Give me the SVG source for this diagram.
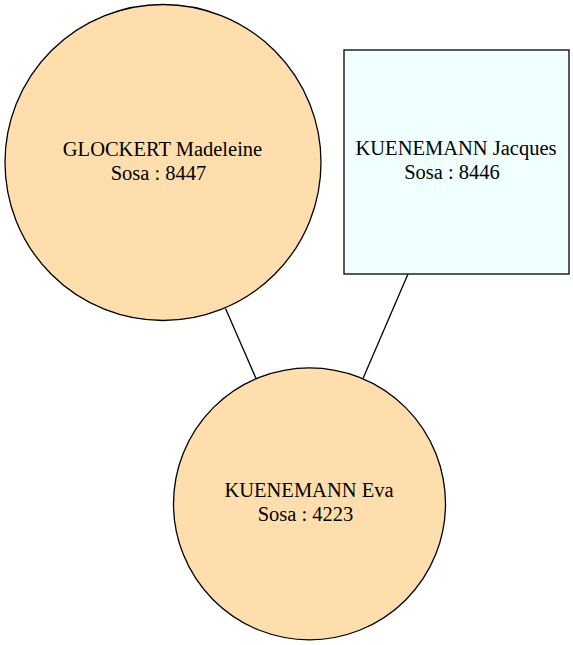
<svg xmlns="http://www.w3.org/2000/svg" width="573" height="645" viewBox="0 0 573 645">
<style>
.n{stroke:#000;stroke-width:1.3}
.f{fill:#FFDEAD}
.m{fill:#F0FFFF}
text{font-family:"Liberation Serif","Times New Roman",serif;font-size:20.5px;fill:#000;text-anchor:middle}
.e{stroke:#000;stroke-width:1.3;fill:none}
</style>
<rect width="573" height="645" fill="#fff"/>
<g id="edges">
<line class="e" x1="225.5" y1="308.5" x2="256" y2="378.5"/>
<line class="e" x1="408" y1="274" x2="363" y2="378.5"/>
</g>
<g id="glockert">
<circle class="n f" cx="163" cy="162.5" r="158"/>
<text x="162.5" y="156">GLOCKERT Madeleine</text>
<text x="158.5" y="180">Sosa : 8447</text>
</g>
<g id="jacques">
<rect class="n m" x="344" y="50" width="225" height="224"/>
<text x="456" y="155">KUENEMANN Jacques</text>
<text x="452" y="179">Sosa : 8446</text>
</g>
<g id="eva">
<circle class="n f" cx="309.5" cy="503.8" r="136"/>
<text x="309" y="497">KUENEMANN Eva</text>
<text x="305.5" y="521">Sosa : 4223</text>
</g>
</svg>
